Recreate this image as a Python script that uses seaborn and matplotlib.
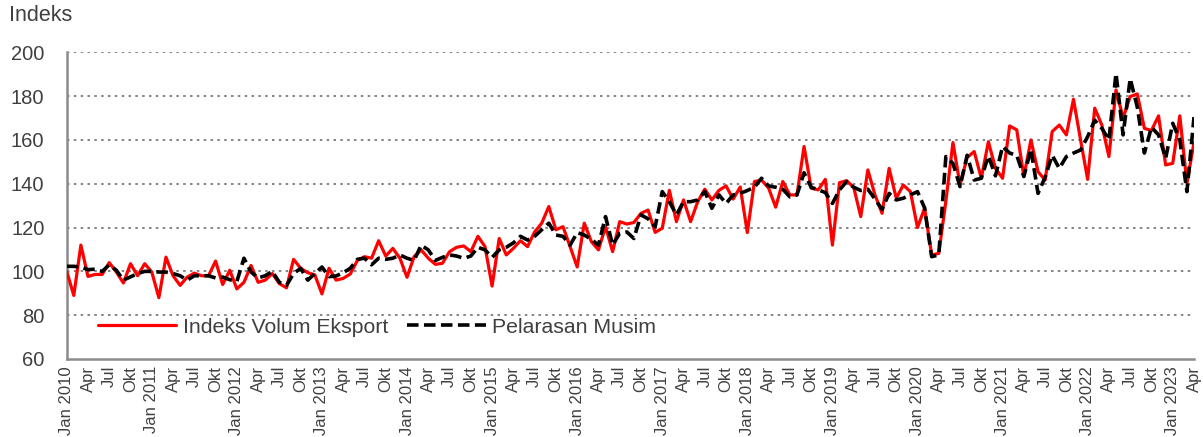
import numpy as np
import pandas as pd
import matplotlib
matplotlib.use("Agg")
import matplotlib.pyplot as plt
import seaborn as sns

# ---------------- data ----------------
years = list(range(2010, 2024))
quarter_months = ["Jan", "Apr", "Jul", "Okt"]
y_ticks = [60, 80, 100, 120, 140, 160, 180, 200]

export_volume = [
    100, 89, 112, 97.7, 98.6, 98.6, 104, 99.7, 94.7, 103.5,
    98, 103.5, 99.7, 88, 106.5, 98, 93.6, 97.4, 99.2, 98,
    98, 104.7, 94, 100.5, 92, 95, 102.7, 95, 96, 99,
    94.4, 92.5, 105.5, 101.4, 99.4, 98.4, 89.7, 101.4, 96, 96.8,
    98.8, 105, 106.7, 106, 114, 107, 110.5, 106, 97.3, 106.7,
    109.8, 106, 103.2, 103.7, 109, 111, 111.6, 109, 116, 111.3,
    93.3, 115, 107.5, 110.5, 114, 111.3, 118, 122, 129.6, 119,
    120.4, 111.3, 102, 122, 113.6, 109.8, 120.4, 109, 122.7, 121.6,
    122.3, 126.5, 128, 117.8, 119.7, 137, 122.7, 132.6, 122.7, 131.8,
    137.5, 132.6, 137, 139, 133, 138.5, 117.7, 141, 141.7, 138,
    129.3, 141, 134.9, 134.9, 157, 138, 137.2, 142, 112, 140.5,
    141.4, 138.4, 125, 146.3, 134.9, 126.5, 147, 133.4, 139.4, 136.4,
    120, 128.8, 107.5, 108.2, 132, 158.8, 139.5, 152, 154.7, 142.5,
    159.2, 147, 142.5, 166.4, 164.6, 143.3, 160, 145.5, 141.7, 163.8,
    166.8, 162.3, 178.6, 160, 142, 174.5, 166.8, 152.4, 182.8, 170,
    179.8, 181, 165.3, 164.3, 171, 148.6, 149.3, 171, 140.2, 158.8,
]

seasonal_adj = [
    102.3, 102.3, 102, 100.8, 101, 100, 103, 100.5, 96, 97.5,
    99, 100, 100, 99.7, 99.7, 99, 98, 96, 98, 98,
    98, 97, 97.4, 96.2, 95.4, 106, 99.7, 97, 98, 100,
    95, 93.6, 99, 101.4, 96, 99, 102, 97.6, 97.9, 99.4,
    101.4, 105.5, 106, 103, 106, 105.5, 106, 107.5, 106, 105,
    112, 109.8, 105, 106.4, 107.5, 107, 106, 107, 111, 109.8,
    106.4, 109.8, 111, 113, 116, 114.3, 116, 119, 122, 116.6,
    116, 112, 117.7, 116.6, 114.6, 112, 125, 112, 117.4, 118,
    115, 125.8, 124, 120.4, 136.4, 131.8, 125.8, 131.8, 131.8, 132.6,
    136.4, 128.8, 134.9, 131, 134.9, 135.6, 136.9, 138.4, 142.5, 139,
    138.4, 137.5, 134, 134.9, 145, 138.4, 137.2, 136, 131, 137.2,
    141, 138.4, 136.9, 137.5, 133, 128.3, 135.6, 132.6, 133.4, 134.9,
    136.4, 129, 106.7, 107.5, 152.4, 149.3, 138.7, 153, 141.7, 142.5,
    152.7, 143.6, 157, 154, 153, 143.3, 155.7, 135.6, 143, 153,
    147, 152.4, 154, 155.4, 161.5, 169, 165.3, 160, 190.4, 162.3,
    188, 175, 154, 165.8, 162.3, 151.6, 167.6, 160, 136.4, 170.4,
]

# ---------------- build labels ----------------
n = len(export_volume)
month_idx = np.arange(n)
tick_labels = []
for i in range(n):
    if i % 3 == 0:
        q = quarter_months[(i % 12) // 3]
        tick_labels.append(f"Jan {years[i // 12]}" if q == "Jan" else q)
    else:
        tick_labels.append("")

df = pd.DataFrame({
    "idx": month_idx,
    "Indeks Volum Eksport": export_volume,
    "Pelarasan Musim": seasonal_adj,
})

# ---------------- style ----------------
sns.set_theme(style="white")
plt.rcParams["font.family"] = ["Liberation Sans", "DejaVu Sans"]
text_col = "#404040"
axis_col = "#8c8c8c"

fig = plt.figure(figsize=(12.03, 4.37), dpi=100)
ax = fig.add_axes([66.7 / 1203, 78 / 437, (1194 - 66.7) / 1203, (359 - 52.3) / 437])

sns.lineplot(data=df, x="idx", y="Indeks Volum Eksport", ax=ax,
             color="#ff0000", lw=2.3, label="Indeks Volum Eksport", zorder=3)
sns.lineplot(data=df, x="idx", y="Pelarasan Musim", ax=ax,
             color="black", lw=2.6, linestyle=(0, (3.2, 1.5)),
             label="Pelarasan Musim", zorder=4)

ax.set_xlim(0, n - 1)
ax.set_ylim(60, 200)
ax.set_xlabel("")
ax.set_ylabel("")

# y axis
ax.set_yticks(y_ticks)
ax.set_yticklabels([str(v) for v in y_ticks])
ax.tick_params(axis="y", direction="out", length=6, width=1.5,
               color=axis_col, labelsize=14.5, labelcolor=text_col, pad=10)

# x axis: a tick every month, labels every quarter
ax.set_xticks(month_idx)
ax.set_xticklabels(tick_labels, rotation=90, va="top", ha="center")
ax.tick_params(axis="x", direction="out", length=4, width=1.3,
               color=axis_col, labelsize=12, labelcolor=text_col, pad=1)

# grid
for v in y_ticks[1:]:
    ax.axhline(v, color="#707070", lw=1.2, linestyle=(0, (1.5, 2.6)), zorder=1)

for s in ["top", "right"]:
    ax.spines[s].set_visible(False)
for s in ["left", "bottom"]:
    ax.spines[s].set_color(axis_col)
    ax.spines[s].set_linewidth(1.8)

leg = ax.legend(loc="lower left", bbox_to_anchor=(0.02, 0.045), ncol=2,
                frameon=False, fontsize=15.3, handlelength=3.7,
                handletextpad=0.3, columnspacing=0.9, labelcolor=text_col,
                borderaxespad=0)

fig.text(9 / 1203, 1 - 5 / 437, "Indeks", ha="left", va="top",
         fontsize=15.5, color=text_col)

fig.savefig("out.png", dpi=100)
